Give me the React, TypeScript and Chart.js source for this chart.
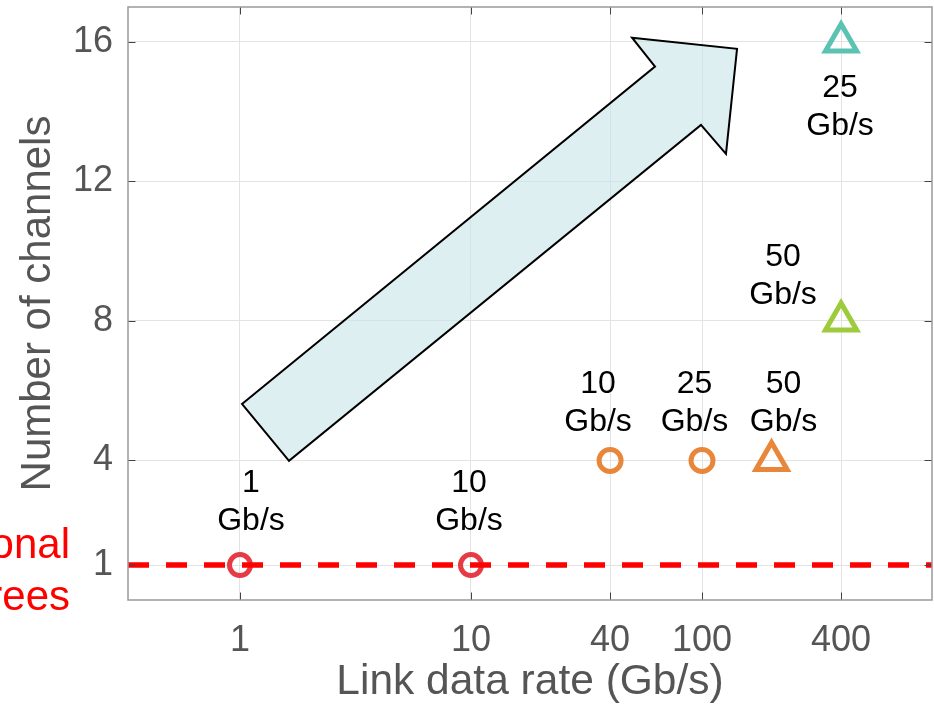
import React, { useEffect, useRef } from "react";
import { Chart, registerables } from "chart.js";

Chart.register(...registerables);

// ---- data ----
const linkRate = [1, 10, 40, 100, 200, 400, 400]; // Gb/s (x)
const channelCount = [1, 1, 4, 4, 4, 8, 16]; // number of channels (y)
const laneRateLabels = ["1", "10", "10", "25", "50", "50", "25"]; // per-lane rate text
const xTicks = [1, 10, 40, 100, 400];
const xTickLabels = ["1", "10", "40", "100", "400"];
const yTicks = [1, 4, 8, 12, 16];
const yTickLabels = ["1", "4", "8", "12", "16"];
const X_MIN = 0.3275;
const X_MAX = 990;
const Y_MIN = 0;
const Y_MAX = 17;
const referenceLevel = 1; // conventional trees: one channel
const referenceX = [X_MIN, X_MAX];
const arrowX = [1.02, 62.6, 49.8, 141.8, 127.0, 99.0, 1.63];
const arrowY = [5.62, 15.29, 16.12, 15.8, 12.79, 13.62, 3.99];
const sideTextLines = ["Conventional", "fat-trees"];

// ---- styles ----
const RED = "#E63A45";
const ORANGE = "#E8863A";
const GREEN = "#9DCB3C";
const TEAL = "#5CC3B3";
const pointColors = [RED, RED, ORANGE, ORANGE, ORANGE, GREEN, TEAL];
const pointShapes = ["circle", "circle", "circle", "circle", "triangle", "triangle", "triangle"];
const pointRadii = [10.5, 10.5, 11, 11, 18, 18, 18];
// label placement relative to its point: [dx of centre, dy of last baseline]
const labelOffsets: [number, number][] = [
  [11, -35],
  [-2, -35],
  [-12, -29],
  [-7.5, -29],
  [12, -29],
  [-58, -17],
  [-1, 93],
];
const FONT = "'Liberation Sans', Arial, sans-serif";
const AXIS_GREY = "#555555";

const decorPlugin = {
  id: "decor",
  beforeDatasetsDraw(chart: any) {
    const { ctx } = chart;
    const xs = chart.scales.x;
    const ys = chart.scales.y;
    ctx.save();
    ctx.beginPath();
    arrowX.forEach((v, i) => {
      const px = xs.getPixelForValue(v);
      const py = ys.getPixelForValue(arrowY[i]);
      if (i === 0) ctx.moveTo(px, py);
      else ctx.lineTo(px, py);
    });
    ctx.closePath();
    ctx.fillStyle = "rgba(200,228,232,0.6)";
    ctx.fill();
    ctx.lineWidth = 2;
    ctx.lineJoin = "miter";
    ctx.strokeStyle = "#000";
    ctx.stroke();
    ctx.restore();
  },
  afterDatasetsDraw(chart: any) {
    const { ctx } = chart;
    const xs = chart.scales.x;
    const ys = chart.scales.y;
    ctx.save();
    ctx.fillStyle = "#000";
    ctx.font = `32px ${FONT}`;
    ctx.textAlign = "center";
    ctx.textBaseline = "alphabetic";
    linkRate.forEach((v, i) => {
      const px = xs.getPixelForValue(v) + labelOffsets[i][0];
      const py = ys.getPixelForValue(channelCount[i]) + labelOffsets[i][1];
      ctx.fillText(laneRateLabels[i], px, py - 38);
      ctx.fillText("Gb/s", px, py);
    });
    ctx.restore();
  },
  afterDraw(chart: any) {
    const { ctx, chartArea } = chart;
    const xs = chart.scales.x;
    const ys = chart.scales.y;
    const { left, right, top, bottom } = chartArea;
    ctx.save();
    // inward ticks
    ctx.strokeStyle = "#444";
    ctx.lineWidth = 1;
    const tl = 7.5;
    xTicks.forEach((v) => {
      const px = Math.round(xs.getPixelForValue(v)) + 0.5;
      ctx.beginPath();
      ctx.moveTo(px, bottom);
      ctx.lineTo(px, bottom - tl);
      ctx.moveTo(px, top);
      ctx.lineTo(px, top + tl);
      ctx.stroke();
    });
    yTicks.forEach((v) => {
      const py = Math.round(ys.getPixelForValue(v)) + 0.5;
      ctx.beginPath();
      ctx.moveTo(left, py);
      ctx.lineTo(left + tl, py);
      ctx.moveTo(right, py);
      ctx.lineTo(right - tl, py);
      ctx.stroke();
    });
    // box
    ctx.strokeStyle = "#999";
    ctx.lineWidth = 1.5;
    ctx.strokeRect(left, top, right - left, bottom - top);
    // side text
    ctx.fillStyle = "#FF0000";
    ctx.font = `42px ${FONT}`;
    ctx.textAlign = "right";
    ctx.textBaseline = "alphabetic";
    const ry = ys.getPixelForValue(referenceLevel);
    ctx.fillText(sideTextLines[0], left - 58, ry - 7);
    ctx.fillText(sideTextLines[1], left - 58, ry + 45);
    ctx.restore();
  },
};

export default function App() {
  const ref = useRef<HTMLCanvasElement | null>(null);
  useEffect(() => {
    if (!ref.current) return;
    const chart = new Chart(ref.current, {
      type: "scatter",
      data: {
        datasets: [
          {
            type: "line",
            label: "Conventional trees",
            data: referenceX.map((x) => ({ x, y: referenceLevel })),
            borderColor: "#FF0000",
            borderWidth: 5.5,
            borderDash: [21, 17],
            pointRadius: 0,
            fill: false,
            order: 0,
          } as any,
          {
            label: "Designs",
            data: linkRate.map((x, i) => ({ x, y: channelCount[i] })),
            pointStyle: pointShapes as any,
            pointRadius: pointRadii,
            pointHoverRadius: pointRadii,
            borderColor: pointColors,
            backgroundColor: "rgba(0,0,0,0)",
            pointBorderWidth: 5,
            borderWidth: 5,
            order: 1,
          },
        ],
      },
      options: {
        responsive: false,
        animation: false,
        devicePixelRatio: 1,
        layout: { autoPadding: false, padding: { top: 7, right: 2, left: 0, bottom: 0 } },
        plugins: {
          legend: { display: false },
          tooltip: { enabled: false },
        },
        scales: {
          x: {
            type: "logarithmic",
            bounds: "data",
            min: X_MIN,
            max: X_MAX,
            afterBuildTicks: (s: any) => {
              s.ticks = xTicks.map((value) => ({ value }));
            },
            afterFit: (s: any) => {
              s.height = 118;
              s.paddingLeft = 0;
              s.paddingRight = 0;
              s.paddingTop = 0;
              s.paddingBottom = 0;
            },
            ticks: {
              autoSkip: false,
              maxRotation: 0,
              padding: 19,
              color: AXIS_GREY,
              font: { family: FONT, size: 36 },
              callback: (_v: any, i: number) => xTickLabels[i],
            },
            grid: { color: "#e3e3e3", lineWidth: 1, drawTicks: false },
            border: { display: false },
            title: {
              display: true,
              text: "Link data rate (Gb/s)",
              color: AXIS_GREY,
              font: { family: FONT, size: 42.5 },
              padding: { top: 0, bottom: 10 },
            },
          },
          y: {
            type: "linear",
            min: Y_MIN,
            max: Y_MAX,
            afterBuildTicks: (s: any) => {
              s.ticks = yTicks.map((value) => ({ value }));
            },
            afterFit: (s: any) => {
              s.width = 128;
              s.paddingLeft = 0;
              s.paddingRight = 0;
              s.paddingTop = 0;
              s.paddingBottom = 0;
            },
            ticks: {
              autoSkip: false,
              padding: 15,
              color: AXIS_GREY,
              font: { family: FONT, size: 36 },
              callback: (_v: any, i: number) => yTickLabels[i],
            },
            grid: { color: "#e3e3e3", lineWidth: 1, drawTicks: false },
            border: { display: false },
            title: {
              display: true,
              text: "Number of channels",
              color: AXIS_GREY,
              font: { family: FONT, size: 42 },
              padding: { top: 13, bottom: 0 },
            },
          },
        },
      },
      plugins: [decorPlugin],
    });
    return () => chart.destroy();
  }, []);
  return (
    <div style={{ position: "fixed", left: 0, top: 0, width: 934, height: 718, background: "#fff" }}>
      <canvas ref={ref} width={934} height={718} style={{ display: "block" }} />
    </div>
  );
}
